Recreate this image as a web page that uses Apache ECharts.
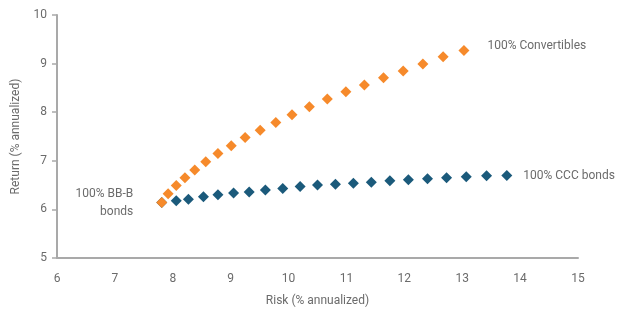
<!DOCTYPE html>
<html>
<head>
<meta charset="utf-8">
<script src="https://cdn.jsdelivr.net/npm/echarts@6/dist/echarts.min.js"></script>
<style>html,body{margin:0;padding:0;background:#fff}#c{width:623px;height:316px}</style>
</head>
<body>
<div id="c"></div>
<script>
// Convertibles mix frontier (risk, return)
const convRisk = [7.81,7.92,8.06,8.21,8.38,8.57,8.78,9.01,9.25,9.51,9.78,10.06,10.36,10.67,10.99,11.31,11.64,11.98,12.32,12.67,13.03];
const convReturn = [6.14,6.32,6.49,6.65,6.81,6.98,7.15,7.31,7.48,7.63,7.79,7.95,8.11,8.27,8.42,8.56,8.71,8.85,8.99,9.14,9.27];
// CCC bonds mix frontier (risk, return)
const cccRisk = [7.81,8.06,8.27,8.53,8.78,9.05,9.32,9.60,9.90,10.20,10.50,10.81,11.12,11.43,11.75,12.07,12.40,12.73,13.07,13.42,13.77];
const cccReturn = [6.14,6.18,6.21,6.26,6.30,6.34,6.36,6.40,6.43,6.47,6.50,6.52,6.54,6.56,6.59,6.61,6.63,6.65,6.67,6.69,6.70];
const xTicks = {min: 6, max: 15, interval: 1};
const yTicks = {min: 5, max: 10, interval: 1};
const labelStart = '100% BB-B\nbonds';
const labelConv = '100% Convertibles';
const labelCCC = '100% CCC bonds';
const xTitle = 'Risk (% annualized)';
const yTitle = 'Return (% annualized)';

const FONT = 'Roboto';
const TXT = '#6b6b6b';
const AX = '#a9a9a9';

function pts(xs, ys) { return xs.map((x, i) => [x, ys[i]]); }

const cccData = pts(cccRisk, cccReturn).map((v, i, a) => {
  if (i === a.length - 1) {
    return {value: v, label: {show: true, formatter: labelCCC, position: 'right', distance: 11, offset: [0, 1],
      color: TXT, fontFamily: FONT, fontSize: 12}};
  }
  return v;
});
const convData = pts(convRisk, convReturn).map((v, i, a) => {
  if (i === 0) {
    return {value: v, label: {show: true, formatter: labelStart, position: 'left', distance: 23, offset: [0, 0],
      align: 'right', lineHeight: 18, color: TXT, fontFamily: FONT, fontSize: 12}};
  }
  if (i === a.length - 1) {
    return {value: v, label: {show: true, formatter: labelConv, position: 'right', distance: 18, offset: [0, -4],
      color: TXT, fontFamily: FONT, fontSize: 12}};
  }
  return v;
});

const chart = echarts.init(document.getElementById('c'), null, {renderer: 'canvas'});
chart.setOption({
  animation: false,
  backgroundColor: '#ffffff',
  grid: {left: 57, right: 45, top: 15, bottom: 58, containLabel: false},
  xAxis: {
    type: 'value', min: xTicks.min, max: xTicks.max, interval: xTicks.interval,
    name: xTitle, nameLocation: 'middle', nameGap: 37,
    nameTextStyle: {color: TXT, fontFamily: FONT, fontSize: 12},
    axisLine: {show: true, lineStyle: {color: AX, width: 2}},
    axisTick: {show: false},
    splitLine: {show: false},
    axisLabel: {color: TXT, fontFamily: FONT, fontSize: 12, margin: 15}
  },
  yAxis: {
    type: 'value', min: yTicks.min, max: yTicks.max, interval: yTicks.interval,
    name: yTitle, nameLocation: 'middle', nameGap: 35,
    nameTextStyle: {color: TXT, fontFamily: FONT, fontSize: 12},
    axisLine: {show: true, onZero: false, lineStyle: {color: AX, width: 2}},
    axisTick: {show: true, length: 5, lineStyle: {color: AX, width: 1.5}},
    splitLine: {show: false},
    axisLabel: {color: TXT, fontFamily: FONT, fontSize: 12, margin: 10}
  },
  series: [
    {type: 'scatter', name: 'CCC', data: cccData, symbol: 'diamond', symbolSize: 11,
      itemStyle: {color: '#1b5a7b', opacity: 1}, z: 2},
    {type: 'scatter', name: 'Conv', data: convData, symbol: 'diamond', symbolSize: 11,
      itemStyle: {color: '#f68a2b', opacity: 1}, z: 3}
  ]
});
</script>
</body>
</html>
